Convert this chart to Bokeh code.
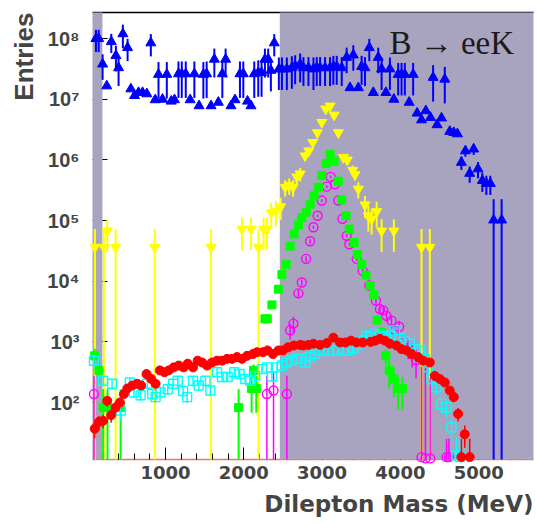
import numpy as np
from bokeh.plotting import figure
from bokeh.models import (Range1d, FixedTicker, CustomJSTickFormatter, LinearAxis, Title, Label)
from bokeh.embed import file_html
from bokeh.resources import INLINE

# ---------------- data ----------------
x_ticks = [1000, 2000, 3000, 4000, 5000]
y_ticks = [1e2, 1e3, 1e4, 1e5, 1e6, 1e7, 1e8]
band_lo = [68, 2460]
band_hi = [195, 5700]

blue_x = [112, 147, 197, 250, 308, 367, 401, 456, 516, 558, 605, 656, 707, 762, 813, 869, 911, 962, 1017, 1073,
          1115, 1166, 1208, 1259, 1315, 1369, 1429, 1484, 1526, 1582, 1624, 1675, 1726, 1768, 1837, 1888, 1951,
          1994, 2048, 2092, 2134, 2185, 2227, 2270, 2312, 2346, 2389, 2448, 2487, 2550, 2614, 2656, 2720, 2762,
          2826, 2890, 2932, 2975, 3038, 3102, 3144, 3187, 3251, 3314, 3357, 3399, 3463, 3505, 3548, 3603, 3654,
          3717, 3760, 3815, 3866, 3917, 3972, 4015, 4057, 4112, 4163, 4214, 4270, 4325, 4385, 4418, 4469, 4525,
          4567, 4631, 4682, 4729, 4779, 4830, 4885, 4936, 4991, 5047, 5098, 5149, 5191, 5293]
blue_y = [1.0e8, 1.0e8, 3.8e7, 1.66e7, 8.9e7, 5.25e7, 3.31e7, 1.2e8, 7.1e7, 1.48e7, 1.15e7, 1.29e7, 1.29e7, 1.23e7,
          8.5e7, 9.8e6, 2.57e7, 1.0e7, 2.57e7, 9.3e6, 9.8e6, 2.63e7, 2.63e7, 2.63e7, 9.8e6, 2.63e7, 7.8e6, 2.57e7,
          2.63e7, 7.8e6, 4.57e7, 8.9e6, 2.63e7, 4.57e7, 7.8e6, 9.8e6, 2.63e7, 2.63e7, 9.3e6, 7.8e6, 2.63e7, 2.75e7,
          2.75e7, 4.57e7, 4.57e7, 3.0e7, 8.5e7, 3.16e7, 3.16e7, 3.16e7, 3.31e7, 3.55e7, 3.8e7, 3.31e7, 3.31e7,
          3.16e7, 3.31e7, 3.31e7, 3.31e7, 3.31e7, 3.47e7, 3.47e7, 3.31e7, 4.9e7, 1.55e7, 5.37e7, 1.55e7, 3.47e7,
          3.31e7, 7.1e7, 1.29e7, 4.9e7, 3.16e7, 1.29e7, 3.16e7, 1.0e7, 2.57e7, 2.57e7, 2.57e7, 8.9e6, 2.57e7,
          5.9e6, 4.57e6, 6.46e6, 5.0e6, 2.29e7, 3.8e6, 4.9e6, 2.14e7, 2.95e6, 2.82e6, 2.69e6, 9.1e5, 1.41e6,
          6.0e5, 1.51e6, 7.1e5, 4.57e5, 4.07e5, 4.07e5, 1.02e5, 1.02e5]
blue_err = [0.4, 0.4, 0.45, 0.1, 0.35, 0.45, 0.5, 0.42, 0.4, 0.08, 0.08, 0.08, 0.08, 0.08, 0.4, 0.08, 0.6, 0.08,
            0.6, 0.08, 0.08, 0.6, 0.6, 0.6, 0.08, 0.6, 0.08, 0.6, 0.6, 0.08, 0.5, 0.08, 0.6, 0.5, 0.08, 0.08, 0.6,
            0.6, 0.08, 0.08, 0.6, 0.6, 0.6, 0.5, 0.5, 0.55, 0.4, 0.55, 0.55, 0.55, 0.55, 0.5, 0.5, 0.5, 0.5, 0.55,
            0.5, 0.5, 0.5, 0.5, 0.5, 0.5, 0.5, 0.45, 0.08, 0.45, 0.08, 0.5, 0.5, 0.4, 0.08, 0.45, 0.55, 0.08, 0.55,
            0.08, 0.55, 0.55, 0.55, 0.08, 0.55, 0.08, 0.08, 0.1, 0.08, 0.6, 0.08, 0.1, 0.6, 0.08, 0.08, 0.08, 0.25,
            0.2, 0.3, 0.2, 0.3, 0.35, 0.35, 0.35, 1.2, 1.2]

yellow_x = [99, 213, 256, 363, 863, 1582, 1977, 2092, 2189, 2253, 2295, 2350, 2410, 2471, 2529, 2580, 2630, 2677,
            2720, 2783, 2830, 2882, 2940, 2996, 3047, 3102, 3153, 3208, 3272, 3322, 3391, 3420, 3463, 3548, 3591,
            3633, 3697, 3760, 3917, 4270, 4376]
yellow_y = [3.63e4, 3.63e4, 6.76e4, 3.63e4, 3.63e4, 3.63e4, 7.24e4, 7.24e4, 3.63e4, 7.24e4, 7.24e4, 1.35e5, 1.45e5,
            1.7e5, 3.55e5, 3.8e5, 3.55e5, 5.25e5, 5.89e5, 1.17e6, 1.41e6, 1.95e6, 2.82e6, 4.17e6, 6.92e6, 7.76e6,
            5.5e6, 2.82e6, 1.1e6, 1.0e6, 6.76e5, 5.75e5, 3.31e5, 1.82e5, 1.2e5, 1.07e5, 1.41e5, 6.76e4, 6.76e4,
            3.63e4, 3.63e4]
yellow_err = [1.0, 1.0, 0.55, 1.0, 1.0, 1.0, 0.55, 0.55, 1.0, 0.55, 0.55, 0.45, 0.45, 0.4, 0.3, 0.3, 0.3, 0.25,
              0.25, 0.15, 0.15, 0.12, 0.1, 0.1, 0.08, 0.08, 0.08, 0.1, 0.15, 0.15, 0.2, 0.2, 0.3, 0.4, 0.45, 0.45,
              0.45, 0.55, 0.55, 1.0, 1.0]

green_x = [96, 150, 204, 260, 427, 1934, 2100, 2125, 2160, 2270, 2300, 2359, 2443, 2487, 2541, 2592, 2643, 2698,
           2741, 2796, 2847, 2898, 2953, 2996, 3051, 3102, 3153, 3208, 3251, 3306, 3348, 3408, 3450, 3506, 3561,
           3611, 3662, 3704, 3760, 3815, 3857, 3917, 3972, 4028]
green_y = [589, 339, 83, 83, 83, 83, 170, 339, 170, 2400, 2400, 4070, 7410, 1.29e4, 1.9e4, 3.8e4, 6.03e4, 8.5e4,
           1.12e5, 1.38e5, 1.86e5, 2.57e5, 3.55e5, 5.5e5, 8.7e5, 1.23e6, 9.55e5, 4.47e5, 2.19e5, 1.2e5, 7.24e4,
           4.37e4, 2.75e4, 1.9e4, 1.26e4, 8500, 6030, 2290, 1450, 589, 339, 245, 170, 170]
green_err = [0.3, 0.4, 1.0, 1.0, 1.0, 1.0, 0.6, 0.25, 0.6, 0.15, 0.15, 0.1, 0.1, 0.08, 0.08, 0.05, 0.05, 0.05,
             0.05, 0.05, 0.04, 0.04, 0.04, 0.04, 0.04, 0.04, 0.04, 0.04, 0.04, 0.05, 0.05, 0.05, 0.06, 0.08, 0.08,
             0.1, 0.1, 0.15, 0.15, 0.3, 0.5, 0.5, 0.55, 0.55]

magenta_x = [87, 2295, 2380, 2550, 2592, 2634, 2698, 2741, 2796, 2847, 2890, 2943, 2996, 3060, 3110, 3166, 3208,
             3261, 3314, 3348, 3442, 3518, 3602, 3688, 3739, 3781, 3822, 3887, 3930, 3985, 4050, 4100, 4150, 4200,
             4270, 4320, 4380, 4589, 4620]
magenta_y = [138, 138, 158, 138, 1550, 2000, 6310, 9550, 2.34e4, 4.57e4, 7.76e4, 1.2e5, 2.14e5, 3.63e5, 5.25e5,
             3.98e5, 2.14e5, 1.07e5, 5.62e4, 4.07e4, 2.34e4, 1.48e4, 8500, 4790, 3470, 3310, 2690, 2240, 1550, 1780,
             1000, 794, 631, 501, 12.6, 12, 12, 12.6, 12.6]
magenta_err = [1.0, 1.0, 1.0, 1.0, 0.3, 0.3, 0.15, 0.12, 0.1, 0.08, 0.06, 0.05, 0.05, 0.05, 0.05, 0.05, 0.05, 0.05,
               0.06, 0.07, 0.08, 0.1, 0.12, 0.15, 0.15, 0.15, 0.2, 0.2, 0.25, 0.25, 0.3, 0.35, 0.4, 0.5, 30, 30,
               20, 1.0, 1.0]

cyan_x = [87, 204, 318, 427, 545, 597, 682, 767, 831, 873, 936, 1029, 1098, 1157, 1225, 1276, 1352, 1424, 1510,
          1573, 1658, 1722, 1794, 1879, 1947, 2019, 2083, 2146, 2232, 2295, 2359, 2423, 2487, 2550, 2610, 2680, 2740,
          2783, 2850, 2911, 2960, 3017, 3080, 3140, 3200, 3270, 3330, 3400, 3460, 3520, 3567, 3610, 3676, 3740, 3780,
          3822, 3870, 3930, 3994, 4057, 4120, 4185, 4250, 4312, 4355, 4397, 4461, 4525, 4589, 4652, 4716, 4760]
cyan_y = [490, 229, 204, 74, 214, 148, 132, 204, 138, 123, 148, 166, 204, 229, 155, 123, 229, 191, 229, 158, 316,
          263, 263, 316, 295, 245, 229, 275, 355, 380, 269, 380, 407, 457, 490, 525, 525, 457, 562, 631, 724, 724,
          724, 724, 724, 724, 724, 794, 891, 1050, 1260, 1200, 1350, 1260, 1200, 1120, 1260, 1550, 1120, 1000, 933,
          759, 724, 525, 380, 245, 178, 95, 83, 39, 13.5, 12.6]
cyan_err = [0.25, 0.2, 0.2, 0.3, 0.2, 0.2, 0.2, 0.2, 0.2, 0.2, 0.2, 0.2, 0.2, 0.2, 0.2, 0.2, 0.2, 0.2, 0.2, 0.2,
            0.18, 0.18, 0.18, 0.18, 0.18, 0.18, 0.18, 0.18, 0.16, 0.16, 0.16, 0.16, 0.16, 0.15, 0.15, 0.15, 0.15,
            0.15, 0.14, 0.14, 0.13, 0.13, 0.13, 0.13, 0.13, 0.13, 0.13, 0.13, 0.12, 0.12, 0.12, 0.12, 0.12, 0.12,
            0.12, 0.12, 0.12, 0.12, 0.12, 0.13, 0.13, 0.14, 0.14, 0.16, 0.18, 0.22, 0.25, 0.3, 0.3, 0.4, 1.0, 1.0]

red_x = [96, 150, 204, 256, 306, 363, 418, 469, 512, 576, 639, 690, 758, 818, 873, 928, 987, 1042, 1106, 1170, 1233,
         1284, 1352, 1411, 1467, 1531, 1595, 1658, 1722, 1786, 1850, 1913, 1977, 2041, 2117, 2168, 2244, 2303, 2372,
         2443, 2500, 2565, 2640, 2720, 2762, 2826, 2890, 2975, 3060, 3144, 3229, 3300, 3370, 3440, 3520, 3620, 3680,
         3739, 3803, 3866, 3951, 4015, 4079, 4142, 4227, 4290, 4376, 4439, 4503, 4567, 4631, 4682, 4737, 4822, 4779,
         4885]
red_y = [37, 48, 50, 107, 62, 83, 100, 138, 170, 191, 204, 191, 295, 245, 204, 339, 316, 339, 380, 407, 380, 437,
         380, 490, 457, 407, 457, 490, 490, 525, 525, 562, 525, 589, 631, 676, 676, 724, 631, 724, 724, 813, 871,
         891, 871, 891, 933, 891, 955, 1175, 977, 977, 1047, 977, 977, 1000, 1047, 1122, 1047, 933, 871, 759, 724,
         631, 562, 490, 457, 275, 245, 214, 158, 123, 65, 30, 12.6, 12.6]
red_err = [0.3, 0.25, 0.25, 0.2, 0.25, 0.2, 0.15, 0.12, 0.1, 0.1, 0.1, 0.1, 0.08, 0.08, 0.08, 0.08, 0.08, 0.08,
           0.08, 0.07, 0.07, 0.07, 0.07, 0.07, 0.07, 0.07, 0.07, 0.07, 0.07, 0.07, 0.07, 0.07, 0.07, 0.07, 0.07,
           0.07, 0.07, 0.07, 0.07, 0.07, 0.07, 0.06, 0.06, 0.06, 0.06, 0.06, 0.06, 0.06, 0.06, 0.06, 0.06, 0.06,
           0.06, 0.06, 0.06, 0.06, 0.06, 0.06, 0.06, 0.06, 0.07, 0.07, 0.07, 0.08, 0.08, 0.09, 0.09, 0.12, 0.12,
           0.14, 0.16, 0.18, 0.25, 0.4, 1.0, 1.0]

# ---------------- styling ----------------
GRAY = "#a8a4bf"
FONT = "Liberation Sans"
WIDE_FONT = "DejaVu Sans"
X_MIN, X_MAX = 68, 5700
Y_MIN, Y_MAX = 11.5, 2.7e8

p = figure(width=537, height=525, y_axis_type="log",
           x_range=Range1d(X_MIN, X_MAX), y_range=Range1d(Y_MIN, Y_MAX),
           output_backend="svg", toolbar_location=None,
           min_border_left=92, min_border_right=4, min_border_top=12, min_border_bottom=66,
           background_fill_color="white", border_fill_color="white", outline_line_color=None)
p.grid.visible = False

# shaded regions (drawn above the axis ticks, below the data)
p.quad(left=band_lo, right=band_hi, bottom=Y_MIN, top=Y_MAX, fill_color=GRAY, line_color=None,
       level="annotation")


def draw(xs, ys, rel, color, marker, size, filled, lw):
    xs = np.asarray(xs, float)
    ys = np.asarray(ys, float)
    s = ys * np.asarray(rel, float)
    lo = np.clip(ys - s, Y_MIN, Y_MAX)
    hi = np.clip(ys + s, Y_MIN, Y_MAX)
    p.segment(xs, lo, xs, hi, line_color=color, line_width=lw, level="overlay")
    p.scatter(xs, ys, marker=marker, size=size,
              fill_color=color if filled else None, line_color=color,
              line_width=1 if filled else 1.4, level="overlay")


draw(blue_x, blue_y, blue_err, "#0000ff", "triangle", 10, True, 2)
draw(yellow_x, yellow_y, yellow_err, "#ffff00", "inverted_triangle", 10, True, 2)
draw(magenta_x, magenta_y, magenta_err, "#ff00ff", "circle", 9, False, 1.5)
draw(green_x, green_y, green_err, "#00ff00", "square", 8, True, 2)
draw(cyan_x, cyan_y, cyan_err, "#00ffff", "square", 9, False, 1.5)
draw(red_x, red_y, red_err, "#ff0000", "circle", 9, True, 1.5)

# axes
xa = p.xaxis[0]
xa.ticker = FixedTicker(ticks=x_ticks, minor_ticks=list(range(200, 5700, 200)))
xa.major_tick_in = 12
xa.major_tick_out = 0
xa.minor_tick_in = 6
xa.minor_tick_out = 0
xa.major_tick_line_color = "black"
xa.minor_tick_line_color = "black"
xa.axis_line_color = "#e07878"
xa.axis_line_width = 1.5
xa.major_label_text_font = WIDE_FONT
xa.major_label_text_font_style = "bold"
xa.major_label_text_font_size = "18px"
xa.major_label_standoff = 6

ya = p.yaxis[0]
ya.ticker = FixedTicker(ticks=y_ticks, minor_ticks=[])
ya.formatter = CustomJSTickFormatter(code="""
const sup = {'0':'\u2070','1':'\u00b9','2':'\u00b2','3':'\u00b3','4':'\u2074','5':'\u2075','6':'\u2076','7':'\u2077','8':'\u2078','9':'\u2079','-':'\u207b'};
const e = Math.round(Math.log10(tick));
return '10' + String(e).split('').map(c => sup[c]).join('');
""")
ya.major_tick_in = 15
ya.major_tick_out = 0
ya.minor_tick_in = 0
ya.minor_tick_out = 0
ya.major_tick_line_color = "black"
ya.axis_line_color = None
ya.major_label_text_font = FONT
ya.major_label_text_font_style = "bold"
ya.major_label_text_font_size = "20px"
ya.major_label_standoff = 13

top_axis = LinearAxis(ticker=FixedTicker(ticks=[]), axis_line_color="black", axis_line_width=1.5,
                      major_tick_in=0, major_tick_out=0, minor_tick_in=0, minor_tick_out=0,
                      major_label_text_font_size="0px")
p.add_layout(top_axis, "above")

p.add_layout(Title(text="Entries", align="right", text_font=FONT, text_font_style="bold",
                   text_font_size="26px", standoff=11), "left")
p.add_layout(Title(text="Dilepton Mass (MeV)", align="right", text_font=WIDE_FONT, text_font_style="bold",
                   text_font_size="23px", standoff=15), "below")

p.add_layout(Label(x=3860, y=8.5e7, text="B \u2192 eeK", text_font="Liberation Serif",
                   text_font_size="33px", text_color="#1a1a1a", text_baseline="alphabetic",
                   level="overlay"))

open("out.html", "w").write(file_html(p, INLINE))
